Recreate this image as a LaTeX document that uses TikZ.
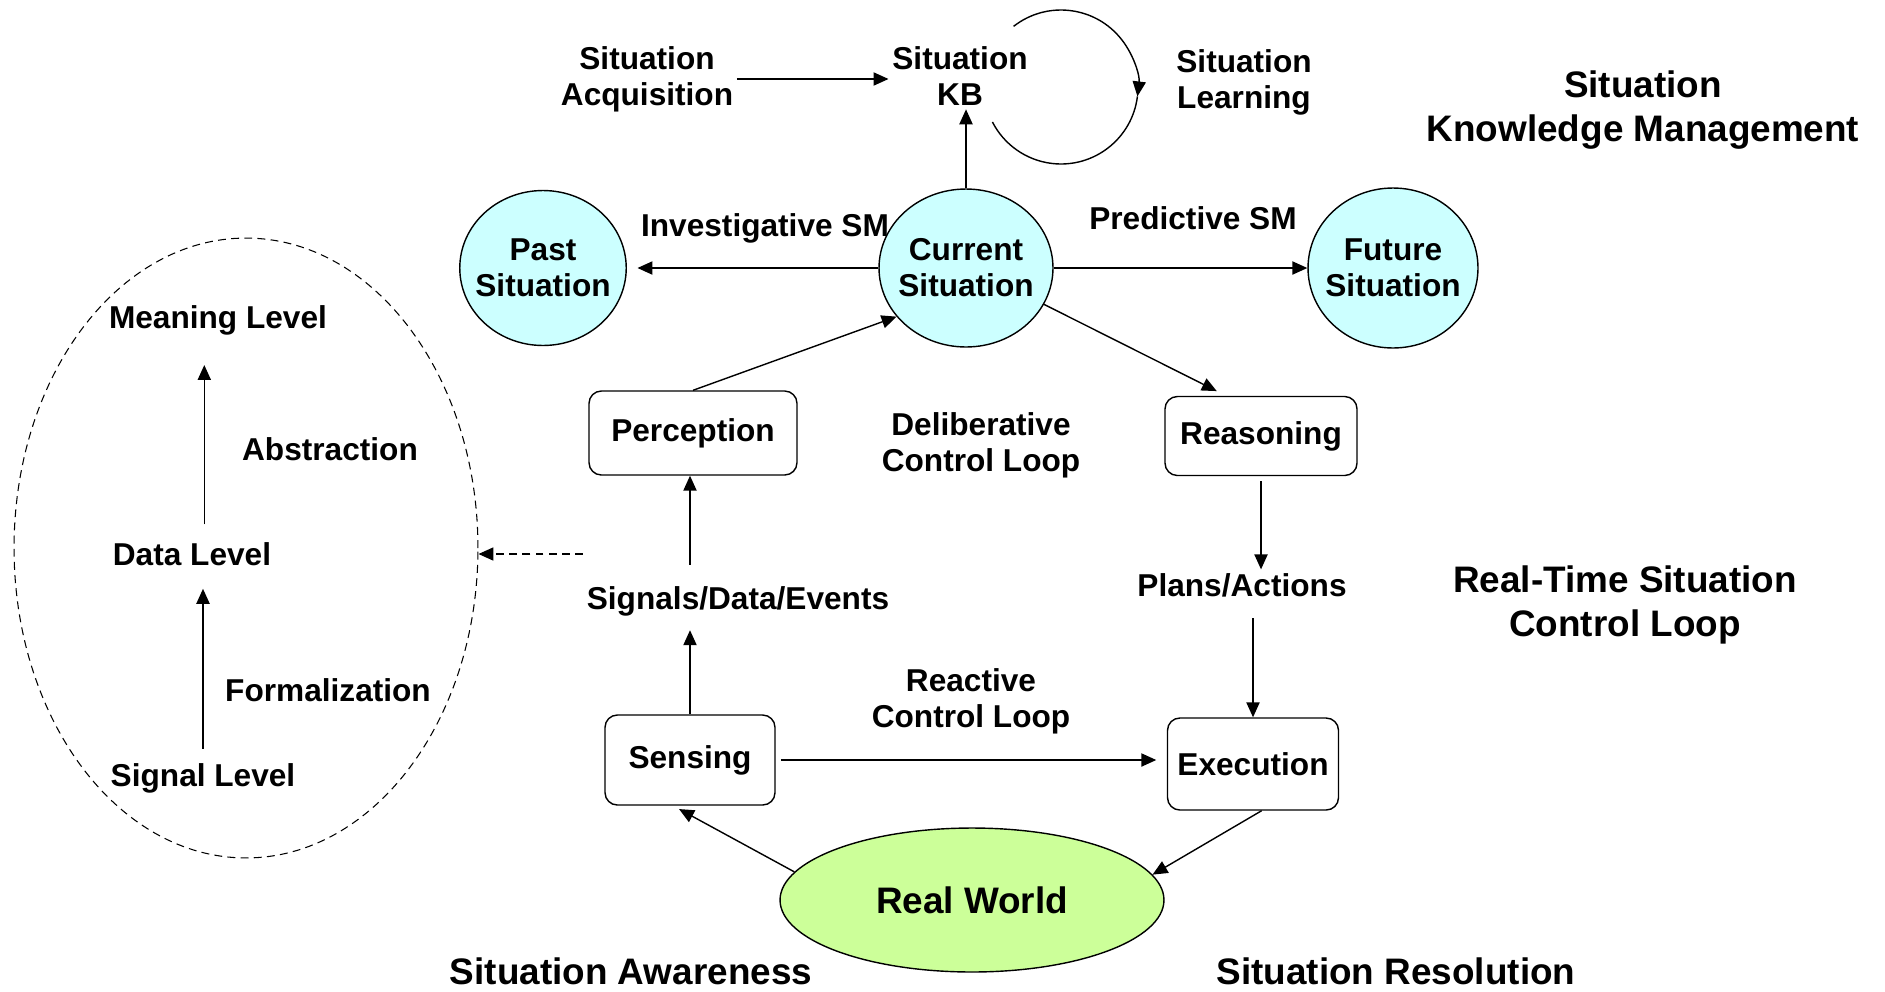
\documentclass[tikz,border=0pt]{standalone}
\usepackage{fontspec}
\setmainfont{Liberation Sans}
\usepackage{tikz}
\usetikzlibrary{shapes.geometric, arrows.meta, calc}
\usepackage{xcolor}
\definecolor{ciano}{HTML}{CCFFFF}
\definecolor{verde}{HTML}{CCFF99}

\begin{document}
\begin{tikzpicture}[x=0.02cm, y=-0.02cm,
    txt/.style={font=\bfseries\fontsize{18}{20.5}\selectfont, align=center, inner sep=2pt},
    grande/.style={font=\bfseries\fontsize{21}{25}\selectfont, align=center, inner sep=2pt},
    sit/.style={txt, ellipse, draw, line width=0.8pt, fill=ciano, minimum width=3.32cm, minimum height=3.1cm, inner sep=-5pt},
    caixa/.style={txt, draw, line width=0.8pt, rounded corners=7pt},
    seta/.style={-{Triangle[length=8.5pt, width=7.5pt]}, line width=0.8pt}]
    \useasboundingbox (0,0) rectangle (1885,991);
    % Conhecimento
    \node[txt] (acq) at (647,79) {Situation\\Acquisition};
    \node[txt] (kb) at (960,76) {Situation\\KB};
    \node[txt] (learn) at (1244,82) {Situation\\Learning};
    \node[grande] (skm) at (1643,110) {Situation\\Knowledge Management};
    \coordinate (ciclo) at (1061,87);
    % Situacoes
    \node[sit] (past) at (543,268) {Past\\Situation};
    \node[sit, minimum width=3.48cm, minimum height=3.16cm] (current) at (966,268) {Current\\Situation};
    \node[sit, minimum width=3.4cm, minimum height=3.2cm] (future) at (1393,268) {Future\\Situation};
    \node[txt] (invest) at (765,228) {Investigative SM};
    \node[txt] (pred) at (1193,218) {Predictive SM};
    % Laco deliberativo
    \node[caixa, minimum width=4.16cm, minimum height=1.68cm] (perc) at (693,433) {Perception};
    \node[caixa, minimum width=3.84cm, minimum height=1.58cm] (reas) at (1261,436) {Reasoning};
    \node[txt] (delib) at (981,445) {Deliberative\\Control Loop};
    \node[txt] (sig) at (738,601) {Signals/Data/Events};
    \node[txt] (plans) at (1242,585) {Plans/Actions};
    \node[grande] (rt) at (1625,605) {Real-Time Situation\\Control Loop};
    % Laco reativo
    \node[caixa, minimum width=3.4cm, minimum height=1.8cm] (sens) at (690,760) {Sensing};
    \node[caixa, minimum width=3.42cm, minimum height=1.84cm] (exec) at (1253,764) {Execution};
    \node[txt] (react) at (971,701) {Reactive\\Control Loop};
    \node[grande, ellipse, draw, line width=0.8pt, fill=verde, minimum width=7.68cm, minimum height=2.88cm] (world) at (972,900) {Real World};
    \node[grande] (aware) at (631,971) {Situation Awareness};
    \node[grande] (resol) at (1396,971) {Situation Resolution};
    % Niveis
    \node[ellipse, draw, line width=0.6pt, dash pattern=on 4.5pt off 3pt, minimum width=9.28cm, minimum height=12.4cm] (levels) at (246,548) {};
    \node[txt] (meaning) at (218,320) {Meaning Level};
    \node[txt] (data) at (192,554) {Data Level};
    \node[txt] (signal) at (203,778) {Signal Level};
    \node[txt] (abstr) at (330,449) {Abstraction};
    \node[txt] (formal) at (328,690) {Formalization};

    % Setas
    \draw[seta] (acq.east) -- (acq.east -| kb.west);
    \draw[seta] ([shift={(128:1.54cm)}]ciclo) arc[start angle=128, end angle=-7, radius=1.54cm];
    \draw[line width=0.8pt] ([shift={(-7:1.54cm)}]ciclo) arc[start angle=-7, end angle=-153, radius=1.54cm];
    \draw[seta] (current.north) -- (current.north |- kb.south);
    \draw[seta, shorten >=6pt] (current.west) -- (past.east);
    \draw[seta] (current.east) -- (future.west);
    \draw[seta] (perc.north) -- (current.215);
    \draw[seta, shorten >=6pt] (current.-25) -- ($(reas.north west)!0.32!(reas.north east)$);
    \draw[seta, shorten >=6pt] (sens.north) -- (sens.north |- sig.south);
    \draw[seta, shorten <=10pt] (sens.north |- sig.north) -- (sens.north |- perc.south);
    \draw[seta, shorten <=3pt] (reas.south) -- (reas.south |- plans.north);
    \draw[seta, shorten <=10pt] (exec.north |- plans.south) -- (exec.north);
    \draw[seta, shorten <=3pt, shorten >=6pt] (sens.east) -- (sens.east -| exec.west);
    \draw[seta, shorten >=4pt] (world.171) -- ($(sens.south west)!0.4!(sens.south east)$);
    \draw[seta] ($(exec.south west)!0.55!(exec.south east)$) -- (world.8);
    \draw[seta, shorten <=8pt, shorten >=15pt] ([xshift=7pt]data.north) -- ([xshift=7pt]data.north |- meaning.south);
    \draw[seta, shorten <=6pt, shorten >=11pt] (signal.north) -- (signal.north |- data.south);
    \draw[seta, line width=0.6pt, dash pattern=on 4.5pt off 3pt] (sig.west |- data) -- (levels.east |- data);
\end{tikzpicture}
\end{document}
